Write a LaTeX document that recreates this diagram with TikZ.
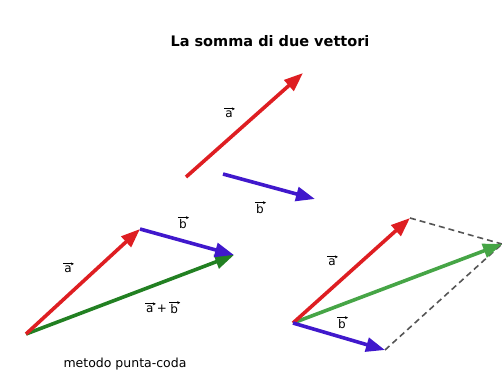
\documentclass[tikz,border=0pt]{standalone}
\usepackage{fontspec}
\setmainfont{DejaVu Sans}
\setsansfont{DejaVu Sans}
\usetikzlibrary{arrows.meta,positioning}
\definecolor{vecred}{RGB}{222,30,34}
\definecolor{vecblue}{RGB}{64,24,204}
\definecolor{vecgreen}{RGB}{34,128,34}
\definecolor{vecgreenlight}{RGB}{70,165,70}
\definecolor{dashgray}{RGB}{85,85,85}

\begin{document}
\begin{tikzpicture}[
      x=1pt,y=-1pt,
      node distance=1pt,
      vec/.style={line width=3.6pt,-{Triangle[length=19pt,width=14pt]}},
      veca/.style={vec,draw=vecred,fill=vecred},
      vecb/.style={vec,draw=vecblue,fill=vecblue},
      vecs/.style={vec,draw=vecgreen,fill=vecgreen},
      guide/.style={draw=dashgray,line width=1.6pt,dash pattern=on 6pt off 4pt},
      lbl/.style={font=\fontsize{12}{13}\selectfont,inner sep=0.5pt},
      vlbl/.style={lbl,append after command={([yshift=1pt]\tikzlastnode.north west) edge[line width=0.8pt,-{Stealth[length=3pt,width=3pt]},shorten <=-0.5pt,shorten >=-1.5pt] ([yshift=1pt]\tikzlastnode.north east)}}
    ]
      \useasboundingbox (0,0) rectangle (502,378);
      \node[font=\bfseries\fontsize{14.5}{16}\selectfont] (title) at (270,41) {La somma di due vettori};

      % i due vettori separati
      \coordinate (a0) at (186,177);
      \coordinate (a1) at (303,73);
      \coordinate (b0) at (223,174);
      \coordinate (b1) at (315,199);
      \draw[veca] (a0) -- (a1);
      \draw[vecb] (b0) -- (b1);
      \node[vlbl] (lblA) at (229,114) {a};
      \node[vlbl] (lblB) at (260,209) {b};

      % metodo punta-coda
      \coordinate (pc0) at (26,334);
      \coordinate (pcA) at (140,229);
      \coordinate (pcS) at (234,255);
      \draw[vecs] (pc0) -- (pcS);
      \draw[veca] (pc0) -- (pcA);
      \draw[vecb] (pcA) -- (pcS);
      \node[vlbl] (pcLblA) at (68,269) {a};
      \node[vlbl] (pcLblB) at (183,224) {b};
      \node[lbl] (pcPlus) at (162,309) {+};
      \node[vlbl,left=2pt of pcPlus] (pcLblSa) {a};
      \node[vlbl,right=2pt of pcPlus] (pcLblSb) {b};
      \node[font=\fontsize{12.5}{14}\selectfont] (caption) at (125,364) {metodo punta-coda};

      % metodo del parallelogramma
      \coordinate (pg0) at (293,323);
      \coordinate (pgA) at (410,218);
      \coordinate (pgB) at (385,350);
      \coordinate (pgS) at (502,244);
      \draw[guide] (pgA) -- (pgS);
      \draw[guide] (pgB) -- (pgS);
      \draw[vecs,draw=vecgreenlight,fill=vecgreenlight] (pg0) -- (pgS);
      \draw[veca] (pg0) -- (pgA);
      \draw[vecb] (pg0) -- (pgB);
      \node[vlbl] (pgLblA) at (332,262) {a};
      \node[vlbl] (pgLblB) at (342,324) {b};
    \end{tikzpicture}
\end{document}
